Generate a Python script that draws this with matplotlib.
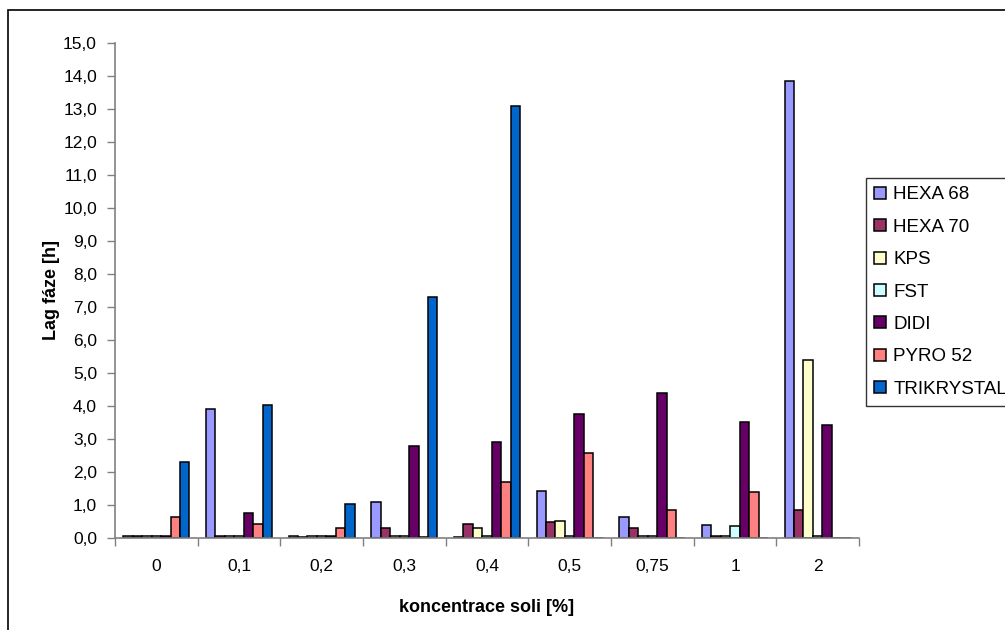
import numpy as np
import matplotlib
matplotlib.use("Agg")
import matplotlib.pyplot as plt
from matplotlib.patches import Rectangle
from matplotlib.ticker import FuncFormatter, FixedLocator

plt.rcParams['font.family'] = ['Liberation Sans', 'DejaVu Sans']

# salt concentrations (x categories)
koncentrace = ['0', '0,1', '0,2', '0,3', '0,4', '0,5', '0,75', '1', '2']

# lag phase [h] for each strain
hexa68 = [0.07, 3.90, 0.07, 1.08, 0.02, 1.43, 0.63, 0.40, 13.85]
hexa70 = [0.07, 0.07, 0.03, 0.30, 0.43, 0.47, 0.30, 0.07, 0.85]
kps = [0.07, 0.07, 0.07, 0.07, 0.30, 0.53, 0.05, 0.05, 5.40]
fst = [0.07, 0.07, 0.07, 0.07, 0.05, 0.05, 0.05, 0.35, 0.07]
didi = [0.07, 0.77, 0.07, 2.80, 2.90, 3.77, 4.40, 3.53, 3.43]
pyro52 = [0.63, 0.43, 0.30, 0.02, 1.70, 2.57, 0.85, 1.40, 0.0]
trikrystal = [2.30, 4.03, 1.03, 7.30, 13.10, 0.0, 0.0, 0.0, 0.0]

serie = ['HEXA 68', 'HEXA 70', 'KPS', 'FST', 'DIDI', 'PYRO 52', 'TRIKRYSTAL']
data = [hexa68, hexa70, kps, fst, didi, pyro52, trikrystal]
barvy = ['#9999FF', '#993366', '#FFFFCC', '#CCFFFF', '#660066', '#FF8080', '#0066CC']

W, H = 1005, 630
fig = plt.figure(figsize=(W / 100, H / 100), dpi=100)

# plot area in pixels: left 115, right 859, bottom 538, top 43
ax = fig.add_axes([115 / W, (H - 538) / H, (859 - 115) / W, (538 - 43) / H])

x = np.arange(len(koncentrace))
n = len(serie)
sirka = 0.8 / n
for i, (jmeno, hodnoty, barva) in enumerate(zip(serie, data, barvy)):
    pos = x - 0.4 + sirka * (i + 0.5)
    ax.bar(pos, hodnoty, width=sirka, color=barva, edgecolor='black',
           linewidth=1.1, label=jmeno)

ax.set_xlim(-0.5, len(koncentrace) - 0.5)
ax.set_ylim(0, 15)
ax.set_yticks(np.arange(0, 16, 1))
ax.yaxis.set_major_formatter(FuncFormatter(lambda v, p: f"{v:.1f}".replace('.', ',')))

# category labels centred, tick marks between groups
ax.set_xticks(x)
ax.set_xticklabels(koncentrace)
ax.xaxis.set_minor_locator(FixedLocator(np.arange(-0.5, len(koncentrace), 1)))
ax.tick_params(axis='x', which='major', length=0, pad=15, labelsize=12.5)
ax.tick_params(axis='x', which='minor', length=6, width=1, color='#808080', direction='out')
ax.tick_params(axis='y', length=6, width=1, color='#808080', direction='out',
               pad=7, labelsize=12.5)

for s in ['top', 'right']:
    ax.spines[s].set_visible(False)
for s in ['left', 'bottom']:
    ax.spines[s].set_color('#808080')
    ax.spines[s].set_linewidth(1.2)

ax.set_ylabel('Lag fáze [h]', fontsize=13, fontweight='bold', labelpad=2)
ax.set_xlabel('koncentrace soli [%]', fontsize=13, fontweight='bold', labelpad=18)

leg = fig.legend(loc='upper left', bbox_to_anchor=(866 / W, 1 - 178 / H),
                 frameon=True, fancybox=False, fontsize=13.5,
                 handlelength=0.6, handleheight=0.6, handletextpad=0.4,
                 labelspacing=0.82, borderpad=0.45, borderaxespad=0)
leg.get_frame().set_edgecolor('black')
leg.get_frame().set_linewidth(1.0)

# outer chart border
fig.patches.append(Rectangle((8 / W, -0.2), 1.2, 1 - 10 / H + 0.2,
                             transform=fig.transFigure, fill=False,
                             edgecolor='black', linewidth=1.2))

fig.savefig('out.png', dpi=100)
